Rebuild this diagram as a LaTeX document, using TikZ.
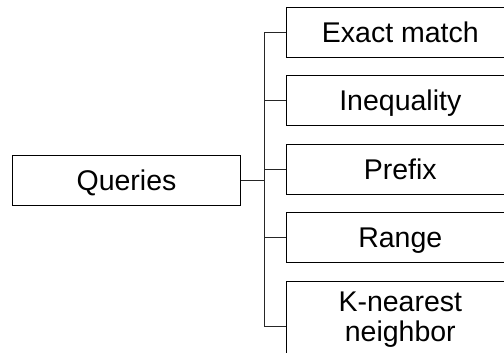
\documentclass[tikz,border=0pt]{standalone}
\usepackage{fontspec}
\setmainfont{Liberation Sans}
\usetikzlibrary{calc}
\begin{document}
\begin{tikzpicture}[x=1pt,y=-1pt,
  qbox/.style={draw=black, line width=1pt, rectangle, minimum width=228pt, minimum height=50pt,
    inner sep=0pt, text height=20pt, text depth=0pt, font=\fontsize{28.5}{30.5}\selectfont},
  conn/.style={draw=black!85, line width=1pt}]
\useasboundingbox (0,0) rectangle (504,353);
\clip (0,0) rectangle (504,353);
\node[qbox] (q) at (126.5,180.5) {Queries};
\node[qbox] (e) at (400.3,32.3) {Exact match};
\node[qbox] (i) at (400.3,100.9) {Inequality};
\node[qbox] (p) at (400.3,169.2) {Prefix};
\node[qbox] (r) at (400.3,237.7) {Range};
\node[draw=black, line width=1pt, rectangle, minimum width=228pt, inner xsep=0pt, inner ysep=10pt,
  anchor=north, align=center, font=\fontsize{28.5}{30.5}\selectfont] (kn) at (400.3,281) {K-nearest\\neighbor};
\coordinate (j) at ($(q.east)+(23,0)$);
\coordinate (kb) at ($(kn.north west)+(0,45)$);
\draw[conn] (q.east) -- (j);
\draw[conn] (e.west) -| (j);
\draw[conn] (kb) -| (j);
\draw[conn] (i.west) -- (i.west -| j);
\draw[conn] (p.west) -- (p.west -| j);
\draw[conn] (r.west) -- (r.west -| j);
\end{tikzpicture}
\end{document}
